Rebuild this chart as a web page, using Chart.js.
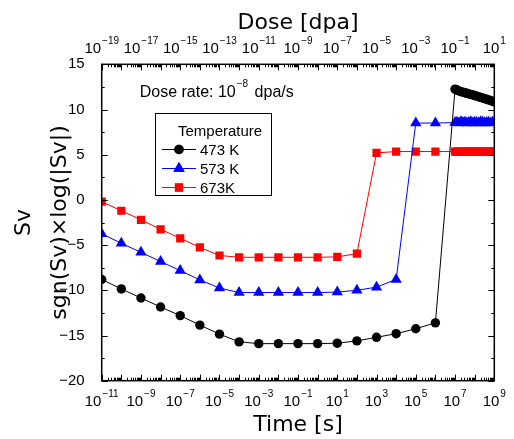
<!DOCTYPE html>
<html>
<head>
<meta charset="utf-8">
<script src="https://cdn.jsdelivr.net/npm/chart.js@4.4.1/dist/chart.umd.min.js"></script>
<style>
  html, body { margin: 0; padding: 0; background: #fff; }
  canvas { display: block; }
</style>
</head>
<body>
<canvas id="c" width="514" height="439"></canvas>
<script>
// Time samples as decade exponents (s): one per decade, then a dense run from 1e7 to 1e9 s
const timeExp = [-11, -10, -9, -8, -7, -6, -5, -4, -3, -2, -1, 0, 1, 2, 3, 4, 5, 6,
  7.0, 7.1, 7.2, 7.3, 7.4, 7.5, 7.6, 7.7, 7.8, 7.9, 8.0, 8.1, 8.2, 8.3, 8.4, 8.5, 8.6, 8.7, 8.8, 8.9, 9.0];

// sgn(Sv) x log(|Sv|) for each irradiation temperature
const sv473 = [-8.8, -9.85, -10.85, -11.85, -12.8, -13.85, -14.85, -15.7, -15.9, -15.9, -15.9, -15.9, -15.85, -15.6, -15.2, -14.8, -14.25, -13.6,
  12.25, 12.15, 12.05, 11.98, 11.91, 11.85, 11.79, 11.73, 11.67, 11.61, 11.55, 11.48, 11.41, 11.34, 11.27, 11.2, 11.13, 11.06, 10.99, 10.92, 10.85];
const sv573 = [-3.75, -4.8, -5.8, -6.82, -7.82, -8.85, -9.75, -10.25, -10.25, -10.25, -10.25, -10.25, -10.2, -10.0, -9.65, -8.8, 8.5, 8.5,
  8.55, 8.6, 8.5, 8.65, 8.55, 8.6, 8.5, 8.55, 8.65, 8.5, 8.6, 8.55, 8.5, 8.65, 8.6, 8.5, 8.55, 8.6, 8.5, 8.6, 8.55];
const sv673 = [-0.2, -1.2, -2.2, -3.25, -4.25, -5.25, -6.15, -6.35, -6.35, -6.35, -6.35, -6.35, -6.3, -5.95, 5.2, 5.35, 5.35, 5.35,
  5.35, 5.35, 5.35, 5.35, 5.35, 5.35, 5.35, 5.35, 5.35, 5.35, 5.35, 5.35, 5.35, 5.35, 5.35, 5.35, 5.35, 5.35, 5.35, 5.35, 5.35];

const seriesNames = ['473 K', '573 K', '673K'];
const seriesColors = ['#000000', '#0000ff', '#ff0000'];
const seriesMarkers = ['circle', 'triangle', 'rect'];
const markerSizes = [4.7, 6.5, 5.8];

// Labelled decades on the time (bottom) and dose (top) axes
const timeTickExp = [-11, -9, -7, -5, -3, -1, 1, 3, 5, 7, 9];
const doseTickExp = [-19, -17, -15, -13, -11, -9, -7, -5, -3, -1, 1];
const doseRateExp = -8;           // dose rate 1e-8 dpa/s
const yMin = -20, yMax = 15, yStep = 5;

const FONT = '"Liberation Sans", Arial, sans-serif';
const TITLE_FONT = '"DejaVu Sans", sans-serif';

function toPoints(values) {
  return values.map((v, i) => ({ x: Math.pow(10, timeExp[i]), y: v }));
}

const datasets = [sv473, sv573, sv673].map((vals, i) => ({
  label: seriesNames[i],
  data: toPoints(vals),
  showLine: true,
  borderColor: seriesColors[i],
  backgroundColor: seriesColors[i],
  borderWidth: 1,
  pointStyle: seriesMarkers[i],
  pointRadius: markerSizes[i],
  pointBorderWidth: 0,
  pointBackgroundColor: seriesColors[i],
  pointBorderColor: seriesColors[i],
  clip: 0
}));

// "10" with a raised exponent, centred on x
function drawPower(ctx, x, baseY, exp, big, small, rise) {
  const base = '10';
  const sup = exp < 0 ? '\u2212' + (-exp) : String(exp);
  ctx.font = big + 'px ' + FONT;
  const wb = ctx.measureText(base).width;
  ctx.font = small + 'px ' + FONT;
  const ws = ctx.measureText(sup).width;
  const x0 = x - (wb + ws + 1) / 2;
  ctx.textAlign = 'left';
  ctx.textBaseline = 'alphabetic';
  ctx.font = big + 'px ' + FONT;
  ctx.fillText(base, x0, baseY);
  ctx.font = small + 'px ' + FONT;
  ctx.fillText(sup, x0 + wb + 1, baseY - rise);
}

function drawMarker(ctx, style, x, y, r, color) {
  Chart.helpers.drawPoint(ctx, { pointStyle: style, rotation: 0, borderWidth: 0 }, x, y);
}

const framePlugin = {
  id: 'frame',
  afterDraw(chart) {
    const ctx = chart.ctx;
    const a = chart.chartArea;
    const xs = chart.scales.x, xt = chart.scales.x2, ys = chart.scales.y;
    ctx.save();
    ctx.strokeStyle = '#000';
    ctx.fillStyle = '#000';

    // plot frame
    ctx.lineWidth = 1.5;
    ctx.strokeRect(a.left, a.top, a.right - a.left, a.bottom - a.top);

    // inward ticks on the log axes: decades long, 2..9 short
    ctx.lineWidth = 1;
    ctx.beginPath();
    const logTicks = (scale, lo, hi, edgeY, dir) => {
      for (let d = lo; d <= hi; d++) {
        for (let k = 1; k <= 9; k++) {
          if (d === hi && k > 1) break;
          const v = k * Math.pow(10, d);
          const px = Math.round(scale.getPixelForValue(v)) + 0.5;
          const len = k === 1 ? 6 : 3;
          ctx.moveTo(px, edgeY);
          ctx.lineTo(px, edgeY + dir * len);
        }
      }
    };
    logTicks(xs, timeTickExp[0], timeTickExp[timeTickExp.length - 1], a.bottom, -1);
    logTicks(xt, doseTickExp[0], doseTickExp[doseTickExp.length - 1], a.top, 1);

    // inward ticks on both value axes
    for (let v = yMin; v <= yMax; v += yStep / 2) {
      const py = Math.round(ys.getPixelForValue(v)) + 0.5;
      const len = (v % yStep === 0) ? 6 : 3;
      ctx.moveTo(a.left, py); ctx.lineTo(a.left + len, py);
      ctx.moveTo(a.right, py); ctx.lineTo(a.right - len, py);
    }
    ctx.stroke();

    // power-of-ten labels
    timeTickExp.forEach(e => drawPower(ctx, xs.getPixelForValue(Math.pow(10, e)), a.bottom + 25, e, 15, 10, 9));
    doseTickExp.forEach(e => drawPower(ctx, xt.getPixelForValue(Math.pow(10, e)), a.top - 11, e, 15, 10, 9));

    // dose-rate note
    const nx = a.left + 38, ny = a.top + 33;
    ctx.textAlign = 'left';
    ctx.textBaseline = 'alphabetic';
    ctx.font = '16px ' + FONT;
    const t1 = 'Dose rate: 10';
    ctx.fillText(t1, nx, ny);
    let w = ctx.measureText(t1).width;
    ctx.font = '10px ' + FONT;
    const sup = '\u2212' + (-doseRateExp);
    ctx.fillText(sup, nx + w + 1, ny - 10);
    const ws = ctx.measureText(sup).width;
    ctx.font = '16px ' + FONT;
    ctx.fillText(' dpa/s', nx + w + ws + 3, ny);

    // legend box
    const bx = 155.5, by = 113.5, bw = 116, bh = 82;
    ctx.fillStyle = '#fff';
    ctx.fillRect(bx, by, bw, bh);
    ctx.lineWidth = 1;
    ctx.strokeStyle = '#000';
    ctx.strokeRect(bx, by, bw, bh);
    ctx.fillStyle = '#000';
    ctx.font = '15px ' + FONT;
    ctx.textBaseline = 'middle';
    ctx.fillText('Temperature', 178, 132);
    const rows = [149.5, 168.5, 187.5];
    chart.data.datasets.forEach((ds, i) => {
      const y = rows[i];
      ctx.strokeStyle = ds.borderColor;
      ctx.lineWidth = 1;
      ctx.beginPath();
      ctx.moveTo(162, y); ctx.lineTo(196, y);
      ctx.stroke();
      ctx.fillStyle = ds.pointBackgroundColor;
      Chart.helpers.drawPoint(ctx, { pointStyle: ds.pointStyle, radius: ds.pointRadius, rotation: 0, borderWidth: 0 }, 179, y);
      ctx.fill();
      ctx.fillStyle = '#000';
      ctx.font = '15px ' + FONT;
      ctx.textBaseline = 'middle';
      ctx.fillText(ds.label, 200, y + 1);
    });
    ctx.restore();
  }
};

const plotLeft = 101.7, plotRight = 494.3, plotTop = 64.3, plotBottom = 380.7;

new Chart(document.getElementById('c'), {
  type: 'scatter',
  data: { datasets },
  options: {
    responsive: false,
    animation: false,
    devicePixelRatio: 1,
    layout: { padding: 0 },
    plugins: { legend: { display: false }, tooltip: { enabled: false } },
    elements: { line: { tension: 0 } },
    scales: {
      x: {
        type: 'logarithmic', position: 'bottom',
        min: Math.pow(10, timeTickExp[0]), max: Math.pow(10, timeTickExp[timeTickExp.length - 1]),
        grid: { display: false }, border: { display: false },
        ticks: { display: false },
        title: { display: true, text: 'Time [s]', color: '#000',
          font: { family: TITLE_FONT, size: 22, lineHeight: 1.2 }, padding: { top: 0, bottom: 1 } },
        afterFit: s => { s.height = 439 - plotBottom; }
      },
      x2: {
        type: 'logarithmic', position: 'top', axis: 'x',
        min: Math.pow(10, doseTickExp[0]), max: Math.pow(10, doseTickExp[doseTickExp.length - 1]),
        grid: { display: false }, border: { display: false },
        ticks: { display: false },
        title: { display: true, text: 'Dose [dpa]', color: '#000',
          font: { family: TITLE_FONT, size: 22, lineHeight: 1.2 }, padding: { top: 10, bottom: 0 } },
        afterFit: s => { s.height = plotTop; }
      },
      y: {
        type: 'linear', position: 'left', min: yMin, max: yMax,
        grid: { display: false }, border: { display: false },
        ticks: { stepSize: yStep, color: '#000', padding: 9, font: { family: FONT, size: 15 },
          callback: v => String(v).replace('-', '\u2212') },
        title: { display: true, text: ['Sv', 'sgn(Sv)\u00d7log(|Sv|)'], color: '#000',
          font: { family: TITLE_FONT, size: 22, lineHeight: 1.64 }, padding: { top: 6, bottom: 0 } },
        afterFit: s => { s.width = plotLeft; }
      },
      y2: {
        type: 'linear', position: 'right', min: yMin, max: yMax,
        grid: { display: false }, border: { display: false },
        ticks: { display: false },
        afterFit: s => { s.width = 514 - plotRight; }
      }
    }
  },
  plugins: [framePlugin]
});
</script>
</body>
</html>
